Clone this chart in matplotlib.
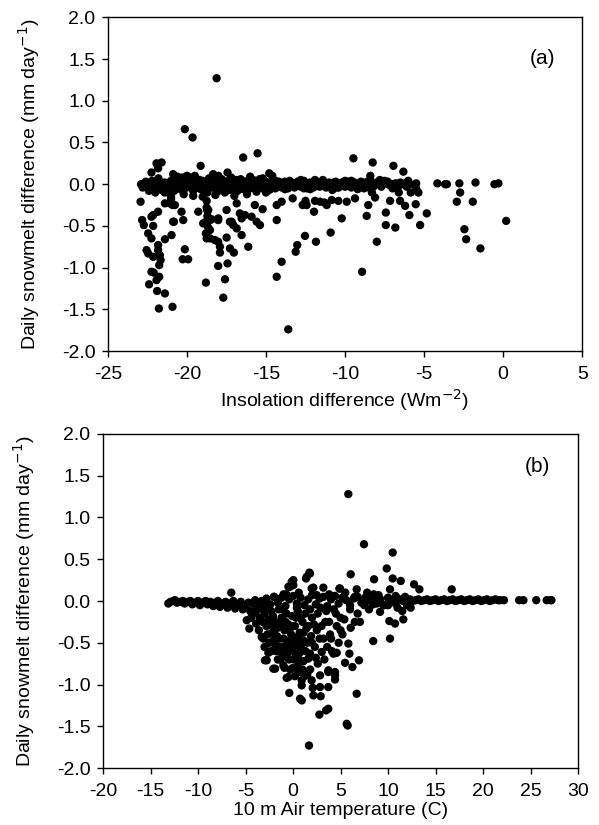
import matplotlib
matplotlib.use('Agg')
import matplotlib.pyplot as plt

plt.rcParams['font.family'] = ['Liberation Sans', 'DejaVu Sans']
plt.rcParams['axes.unicode_minus'] = False

# ---- panel (a): insolation difference vs snowmelt difference ----
band_a_x = [-22.9, -22.7, -22.5, -22.3, -22.1, -21.9, -21.7, -21.5, -21.3, -21.1, -20.9, -20.7,
            -20.5, -20.3, -20.1, -19.9, -19.7, -19.5, -19.3, -19.1, -18.9, -18.7, -18.5, -18.3,
            -18.1, -17.9, -17.7, -17.5, -17.3, -17.1, -16.9, -16.7, -16.5, -16.3, -16.1, -15.9,
            -15.7, -15.5, -15.3, -15.1, -14.9, -14.7, -14.5, -14.3, -14.1, -13.9, -13.7, -13.5,
            -13.3, -13.1, -12.9, -12.7, -12.5, -12.3, -12.1, -11.9, -11.7, -11.5, -11.3, -11.1,
            -10.9, -10.7, -10.5, -10.3, -10.1, -9.9, -9.7, -9.5, -9.3, -9.1, -8.9, -8.7, -8.5,
            -8.4, -8.4, -8.4, -8.3, -8.2, -8.0, -7.8, -7.6, -7.4, -7.2, -7.0, -6.8, -6.6, -6.4,
            -6.2, -5.9, -5.5]
band_a_y = [0.0, -0.02, 0.01, -0.03, 0.02, -0.01, 0.0, -0.04, 0.01, -0.02, 0.03, -0.01,
            0.0, -0.05, 0.02, -0.02, 0.01, -0.03, 0.0, -0.06, 0.02, -0.01, 0.0, -0.04,
            0.01, -0.02, 0.03, -0.01, 0.0, -0.05, 0.02, -0.02, 0.01, -0.03, 0.0, -0.04,
            0.02, -0.01, 0.0, -0.03, 0.01, -0.02, 0.0, -0.01, 0.02, -0.02, 0.0, -0.01,
            0.01, -0.02, 0.0, 0.02, -0.01, 0.0, -0.03, 0.01, -0.02, 0.0, 0.01, -0.02,
            0.0, 0.02, -0.01, 0.0, 0.01, -0.02, 0.0, 0.01, -0.01, 0.0, 0.02, -0.01, 0.0,
            0.05, -0.05, 0.1, -0.1, 0.0, 0.01, -0.01, 0.0, 0.02, -0.01, 0.0, 0.01, -0.02, 0.0,
            0.01, 0.0, 0.01]

band2_a_x = [-22.8, -22.6, -22.4, -22.2, -22.0, -21.8, -21.6, -21.4, -21.2, -21.0, -20.8, -20.6,
             -20.4, -20.2, -20.0, -19.8, -19.6, -19.4, -19.2, -19.0, -18.8, -18.6, -18.4, -18.2,
             -18.0, -17.8, -17.6, -17.4, -17.2, -17.0, -16.8, -16.6, -16.4, -16.2, -16.0, -15.8,
             -15.6, -15.4, -15.2, -15.0, -14.8, -14.6, -14.4, -14.2, -14.0, -13.8, -13.6, -13.4,
             -13.2, -13.0, -12.8, -12.6, -12.4, -12.2, -12.0, -11.8, -11.6, -11.4, -11.2, -11.0,
             -10.8, -10.6, -10.4, -10.2, -10.0, -9.8, -9.6, -9.4, -9.2, -9.0, -8.8, -8.6,
             -8.2, -8.0, -7.7, -7.3, -6.9, -6.5, -6.1]
band2_a_y = [-0.04, 0.03, -0.06, 0.04, -0.03, 0.05, -0.07, 0.02, -0.05, 0.04, -0.08, 0.03,
             -0.06, 0.05, -0.04, 0.06, -0.08, 0.03, -0.05, 0.04, -0.07, 0.05, -0.04, 0.06,
             -0.08, 0.03, -0.05, 0.04, -0.07, 0.05, -0.04, 0.03, -0.06, 0.04, -0.05, 0.03,
             -0.06, 0.04, -0.05, 0.03, -0.04, 0.04, -0.05, 0.03, -0.04, 0.03, -0.05, 0.02,
             -0.04, 0.03, -0.03, 0.04, -0.05, 0.02, -0.04, 0.03, -0.03, 0.04, -0.04, 0.02,
             -0.03, 0.03, -0.04, 0.02, -0.03, 0.03, -0.04, 0.02, -0.03, 0.03, -0.02, 0.03,
             -0.03, 0.02, -0.03, 0.03, -0.02, 0.02, -0.03]

fuzz_a_x = [-22.4, -21.8, -21.4, -20.6, -20.2, -19.8, -19.6, -19.2, -18.8, -18.6, -18.2, -17.8,
            -17.6, -17.2, -16.8, -16.6, -16.2, -15.8, -15.6, -15.2, -14.8, -14.4, -20.0, -19.0,
            -18.0, -17.0, -16.0, -15.0, -21.0, -22.0, -13.8, -12.8, -12.2, -11.4, -10.8, -10.0,
            -9.2, -7.8, -7.0, -6.0, -21.0, -21.0, -20.9, -18.75, -18.7, -18.8, -19.5, -17.4,
            -16.9, -16.4, -15.4, -14.6, -13.5, -12.6, -11.9, -10.5, -9.6, -8.8, -7.5, -6.7]
fuzz_a_y = [-0.08, 0.07, -0.1, 0.09, -0.12, 0.08, -0.14, 0.05, -0.09, 0.07, -0.13, 0.06,
            -0.1, 0.08, -0.08, 0.06, -0.12, 0.05, -0.09, 0.07, -0.07, 0.04, 0.1, -0.15,
            0.1, -0.14, 0.09, -0.1, -0.15, -0.1, -0.06, 0.05, -0.06, 0.05, -0.07, 0.04,
            -0.06, 0.05, -0.05, 0.04, -0.08, -0.18, -0.25, -0.28, -0.38, -0.45, 0.06, -0.07,
            0.05, -0.06, 0.06, -0.05, 0.04, -0.05, 0.05, -0.04, 0.04, -0.05, 0.04, -0.04]

scatter_a_x = [
    # above zero
    -21.92, -21.6, -21.82, -22.24, -20.87, -19.13, -18.34, -17.43, -16.44, -15.53, -14.79, -14.6,
    -20.13, -19.64, -18.12, -9.47, -8.25, -6.94, -6.31, -20.3, -19.5,
    # isolated near zero on the right
    -4.16, -3.67, -3.56, -2.77, -1.75, -0.55, -0.3, -2.72,
    # left group below zero
    -22.93, -22.83, -22.72, -22.45, -22.24, -22.55, -22.45, -22.13, -21.82, -21.71, -21.66, -21.75,
    -22.24, -22.1, -21.75, -21.92, -22.39, -21.88, -21.39, -21.77, -20.91, -22.24, -22.13, -21.82,
    -21.39, -20.97, -20.82, -20.23, -20.34, -20.13, -20.27, -19.92, -22.13, -21.82, -21.39, -21.08,
    -20.76, -20.87,
    # middle group
    -19.28, -18.8, -17.7, -17.59, -18.02, -17.43, -17.91, -17.91, -17.28, -17.03, -18.02, -17.49,
    -18.75, -18.8, -18.54, -18.23, -18.97, -18.65, -18.44, -18.02, -18.54, -18.72, -17.49, -17.28,
    -17.07, -16.85, -16.54, -16.12, -16.85, -16.65, -16.54, -15.91, -15.59, -15.38, -15.7, -15.21,
    -18.65, -18.54, -18.02, -17.17, -16.33, -18.75, -18.7,
    # right-middle
    -14.32, -14.32, -14.01, -13.59, -14.32, -14.01, -13.31, -13.12, -13.02, -12.53, -11.84, -12.68,
    -12.43, -11.96, -12.5, -11.9, -11.3,
    # right
    -8.92, -7.99, -7.42, -7.42, -6.82, -8.63, -10.21, -10.91, -8.53, -8.1, -7.15, -6.52,
    -6.2, -5.53, -5.93, -5.25, -4.83, -5.84, -5.36, -11.58, -11.16, -10.84, -10.42, -9.89,
    -9.37, -2.93, -1.92, 0.19, -2.45, -2.34, -1.44, -5.5, -6.6]
scatter_a_y = [
    0.25, 0.26, 0.19, 0.14, 0.12, 0.22, 0.12, 0.14, 0.32, 0.37, 0.13, 0.1,
    0.66, 0.56, 1.27, 0.31, 0.26, 0.22, 0.15, 0.08, 0.1,
    0.01, 0.0, 0.0, 0.01, 0.02, 0.0, 0.01, -0.1,
    -0.21, -0.43, -0.49, -0.59, -0.65, -0.79, -0.83, -0.87, -0.79, -0.85, -0.91, -0.97,
    -1.05, -1.06, -1.11, -1.15, -1.2, -1.28, -1.31, -1.49, -1.47, -0.39, -0.5, -0.73,
    -0.66, -0.61, -0.45, -0.43, -0.33, -0.78, -0.9, -0.9, -0.37, -0.33, -0.23, -0.23,
    -0.25, -0.45,
    -0.33, -1.18, -1.36, -1.14, -0.98, -0.95, -0.75, -0.82, -0.77, -0.82, -0.69, -0.64,
    -0.65, -0.59, -0.65, -0.67, -0.47, -0.52, -0.42, -0.43, -0.55, -0.31, -0.31, -0.45,
    -0.49, -0.53, -0.61, -0.75, -0.23, -0.35, -0.41, -0.39, -0.45, -0.49, -0.25, -0.3,
    -0.31, -0.43, -0.41, -0.45, -0.37, -0.2, -0.1,
    -0.43, -1.11, -0.93, -1.74, -0.25, -0.21, -0.17, -0.81, -0.73, -0.62, -0.69, -0.25,
    -0.25, -0.33, -0.2, -0.2, -0.22,
    -1.05, -0.69, -0.34, -0.49, -0.52, -0.38, -0.41, -0.58, -0.25, -0.16, -0.2, -0.2,
    -0.26, -0.24, -0.37, -0.49, -0.35, -0.1, -0.1, -0.21, -0.25, -0.19, -0.2, -0.21,
    -0.17, -0.21, -0.21, -0.44, -0.54, -0.66, -0.77, -0.05, -0.1]

# ---- panel (b): air temperature vs snowmelt difference ----
band_b_x = [-13.13, -12.9, -12.6, -12.42, -12.2, -11.9, -11.6, -11.4, -11.1, -10.8, -10.6, -10.3,
            -10.0, -9.8, -9.5, -9.2, -9.0, -8.7, -8.4, -8.2, -7.9, -7.7, -7.4, -7.1,
            -6.9, -6.6, -6.3, -6.1, -5.8, -5.5, -5.3, -5.0, -4.7, -4.5, -4.2, -4.0,
            -3.8, -3.5, -3.3, -3.0,
            -2.8, -2.4, -2.0, -1.6, -1.2, -0.8, -0.4, 0.0, 0.4, 0.8, 1.2, 1.6,
            2.0, 2.4, 2.8, 3.2, 3.6, 4.0, 4.4, 4.8, 5.2, 5.6, 6.0, 6.4,
            6.8, 7.2, 7.6, 8.0, 8.4, 8.8, 9.2, 9.6, 10.0, 10.4, 10.8, 11.2,
            11.6, 12.0, 12.3, 12.6, 12.9, 13.2, 13.5, 13.8, 14.1, 14.4, 14.7, 15.0,
            15.3, 15.6, 15.9, 16.2, 16.5, 16.8, 17.1, 17.4, 17.7, 18.0, 18.3, 18.6,
            18.9, 19.2, 19.5, 19.8, 20.1, 20.4, 20.7, 21.0, 21.3, 21.6, 21.8, 22.2,
            23.8, 24.25, 25.6, 26.7, 27.1, 27.2]
band_b_y = [-0.03, -0.01, 0.0, 0.01, -0.02, -0.01, 0.0, -0.03, -0.01, 0.0, -0.04, -0.02,
            0.0, -0.05, -0.02, 0.0, -0.04, -0.01, -0.06, -0.02, 0.0, -0.07, -0.03, -0.01,
            -0.08, -0.03, 0.0, -0.09, -0.04, -0.01, -0.1, -0.05, -0.02, -0.12, -0.03, 0.01,
            -0.08, -0.02, 0.0, -0.05,
            0.03, -0.04, 0.05, -0.02, 0.04, -0.06, 0.02, 0.06, -0.03, 0.04, -0.05, 0.02,
            0.07, -0.04, 0.03, 0.05, -0.06, 0.02, 0.06, -0.03, 0.04, 0.01, -0.05, 0.03,
            0.05, -0.02, 0.04, 0.01, -0.04, 0.03, 0.02, -0.05, 0.04, 0.01, -0.03, 0.02,
            0.0, 0.01, 0.02, 0.0, 0.01, 0.02, 0.0, 0.01, 0.02, 0.0, 0.01, 0.02,
            0.0, 0.01, 0.02, 0.0, 0.01, 0.02, 0.0, 0.01, 0.02, 0.0, 0.01, 0.02,
            0.0, 0.01, 0.02, 0.0, 0.01, 0.02, 0.0, 0.01, 0.02, 0.01, 0.01, 0.01,
            0.01, 0.01, 0.01, 0.01, 0.01, 0.01]

scatter_b_x = [
    # cluster below zero
    -3.89, -3.5, -3.3, -3.0, -2.95, -2.8, -2.6, -2.5, -2.3, -2.2, -2.07, -2.07,
    -1.9, -1.8, -1.6, -1.5, -1.4, -1.37, -1.2, -1.1, -1.02, -0.9, -0.8, -0.7,
    -0.67, -0.6, -0.5, -0.49, -0.4, -0.3, -0.2, -0.1, 0.0, 0.1, 0.2, 0.3,
    0.4, 0.5, 0.56, 0.6, 0.7, 0.74, 0.8, 0.91, 0.91, 1.0, 1.1, 1.2,
    1.3, 1.4, 1.5, 1.61, 1.79, 1.9, 1.96, 2.0, 2.07, 2.14, 2.3, 2.5,
    2.6, 2.77, 2.84, 2.84, 2.91, 3.02, 3.2, 3.4, 3.47, 3.6, 3.71, 3.71,
    3.72, 3.71, 3.9, 4.1, 4.25, 4.42, 4.42, 4.42, 4.6, 4.8, 5.0, 5.2,
    5.47, 5.65, 5.75, 5.82, 5.93, 6.07, 6.25, 6.5, 6.7, 6.94, 7.04, 8.44,
    1.68, -4.87, -4.6, -3.13, -2.77, -1.89, -0.39, 0.92, -4.2, -3.7,
    -3.6, -3.2, -3.0, -2.7, -2.6, -2.4, -2.3, -2.1, -2.0, -1.9, -1.7, -1.6,
    -1.5, -1.3, -1.2, -1.0, -0.9, -0.8, -0.6, -0.5, -0.4, -0.3, -0.2, -0.1,
    0.0, 0.1, 0.2, 0.3, 0.4, 0.5, 0.6, 0.7, 0.8, 0.9, 1.0, 1.1,
    1.2, 1.3, 1.5, 1.6, 1.8, 2.0, 2.2, 2.4, 2.6, 2.8, 3.0, 3.3,
    3.5, 3.8, 4.0, 4.3, 4.6, 5.0, -4.4, -3.9, -3.4, -2.9, -1.1, 0.4,
    1.8, 2.9,
    # above zero
    -6.5, -0.49, -0.14, 0.03, 1.44, 1.79, 1.72, 1.37, 0.03, -0.32, 1.96, 3.19,
    2.14, 4.88, 4.94, 5.82, 7.47, 10.49, 9.86, 6.07, 8.53, 10.49, 11.34, 12.74,
    13.3, 6.7, 10.21, 16.7, -1.0, -2.0, 3.8, 7.8, 9.0, -0.7, 0.6, 2.5,
    4.4, 5.5, 6.5, 8.5, 10.8, 11.8,
    # below zero on the right
    10.21, 10.14, 10.74, 11.61, 12.38, 9.16, 8.0, 11.0, 6.0, 4.5, 7.5, 10.0,
    9.5, 11.5, 12.0, 8.8, 6.8, 5.4]
scatter_b_y = [
    -0.27, -0.2, -0.43, -0.15, -0.71, -0.3, -0.22, -0.5, -0.12, -0.38, -0.47, -0.81,
    -0.25, -0.6, -0.32, -0.1, -0.45, -0.7, -0.2, -0.55, -0.77, -0.35, -0.62, -0.15,
    -0.92, -0.48, -0.28, -0.91, -0.7, -0.58, -0.4, -0.18, -0.8, -0.52, -0.3, -0.65,
    -0.45, -0.12, -0.69, -0.85, -0.38, -1.17, -0.55, -0.95, -1.01, -0.25, -0.72, -0.48,
    -0.6, -0.33, -0.88, -0.69, -0.63, -0.42, -0.95, -0.2, -1.04, -1.13, -0.55, -0.35,
    -0.75, -1.36, -0.89, -1.03, -1.14, -0.61, -0.45, -0.25, -1.31, -0.55, -0.85, -1.03,
    -0.83, -1.29, -0.4, -0.6, -0.63, -0.85, -0.94, -0.89, -0.3, -0.5, -0.2, -0.4,
    -0.74, -1.47, -1.49, -0.51, -0.63, -0.32, -0.79, -0.25, -1.11, -0.71, -0.25, -0.48,
    -1.73, -0.23, -0.33, -0.45, -0.71, -0.81, -1.1, -1.19, -0.15, -0.1,
    -0.35, -0.25, -0.55, -0.4, -0.62, -0.28, -0.6, -0.18, -0.35, -0.52, -0.42, -0.7,
    -0.55, -0.28, -0.62, -0.45, -0.8, -0.25, -0.68, -0.55, -0.35, -0.82, -0.6, -0.48,
    -0.3, -0.7, -0.9, -0.2, -0.58, -0.78, -0.42, -0.62, -0.2, -0.5, -0.82, -0.38,
    -0.9, -0.15, -0.5, -0.3, -0.82, -0.5, -0.28, -0.68, -0.15, -0.45, -0.3, -0.7,
    -0.12, -0.25, -0.45, -0.1, -0.62, -0.35, -0.2, -0.12, -0.08, -0.1, -0.1, -0.08,
    -0.1, -0.08,
    0.1, 0.17, 0.23, 0.19, 0.29, 0.33, 0.34, 0.27, 0.25, 0.17, 0.15, 0.16,
    0.16, 0.15, 0.15, 1.28, 0.68, 0.58, 0.39, 0.32, 0.26, 0.27, 0.24, 0.2,
    0.14, 0.14, 0.14, 0.14, 0.08, 0.05, 0.08, 0.1, 0.07, 0.08, 0.1, 0.07,
    0.06, 0.1, 0.05, 0.08, 0.06, 0.05,
    -0.45, -0.24, -0.27, -0.22, -0.08, -0.13, -0.1, -0.08, -0.1, -0.15, -0.05, -0.05,
    -0.05, -0.12, -0.05, -0.03, -0.15, -0.22]

fig = plt.figure(figsize=(5.99, 8.25), dpi=100)
ax1 = fig.add_axes([0.180, 0.5745, 0.792, 0.4045])
ax2 = fig.add_axes([0.172, 0.069, 0.793, 0.405])

ms = 36
fs = 14
for ax in (ax1, ax2):
    ax.tick_params(direction='out', length=4, width=1, labelsize=fs, colors='black')
    ax.tick_params(axis='y', pad=5)
    ax.tick_params(axis='x', pad=7)
    for sp in ax.spines.values():
        sp.set_linewidth(1.0)
        sp.set_color('black')
    ax.set_ylim(-2.0, 2.0)
    ax.set_yticks([-2.0, -1.5, -1.0, -0.5, 0.0, 0.5, 1.0, 1.5, 2.0])
    ax.set_yticklabels(['-2.0', '-1.5', '-1.0', '-0.5', '0.0', '0.5', '1.0', '1.5', '2.0'])
    ax.set_ylabel('Daily snowmelt difference (mm day$^{-1}$)', fontsize=fs, labelpad=14)

ax1.scatter(band_a_x, band_a_y, s=ms, c='black', edgecolors='none')
ax1.scatter(band2_a_x, band2_a_y, s=ms, c='black', edgecolors='none')
ax1.scatter(fuzz_a_x, fuzz_a_y, s=ms, c='black', edgecolors='none')
ax1.scatter(scatter_a_x, scatter_a_y, s=ms, c='black', edgecolors='none')
ax1.set_xlim(-25, 5)
ax1.set_xticks([-25, -20, -15, -10, -5, 0, 5])
ax1.set_xlabel('Insolation difference (Wm$^{-2}$)', fontsize=fs, labelpad=3)
ax1.text(0.916, 0.877, '(a)', transform=ax1.transAxes, ha='center', va='center', fontsize=fs + 1)

ax2.scatter(band_b_x, band_b_y, s=ms, c='black', edgecolors='none')
ax2.scatter(scatter_b_x, scatter_b_y, s=ms, c='black', edgecolors='none')
ax2.set_xlim(-20, 30)
ax2.set_xticks([-20, -15, -10, -5, 0, 5, 10, 15, 20, 25, 30])
ax2.set_xlabel('10 m Air temperature (C)', fontsize=fs, labelpad=1)
ax2.text(0.914, 0.904, '(b)', transform=ax2.transAxes, ha='center', va='center', fontsize=fs + 1)

plt.savefig('out.png', dpi=100)
plt.close()
